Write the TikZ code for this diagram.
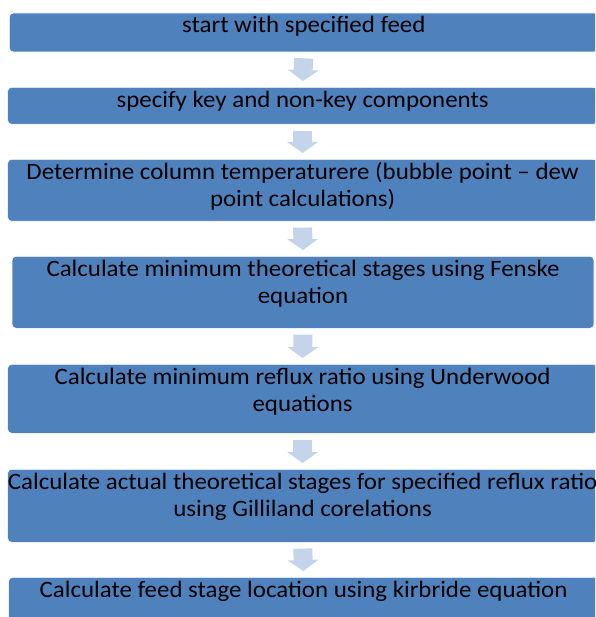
\documentclass[tikz,border=0pt]{standalone}
\usepackage{fontspec}
\setmainfont{Carlito}[FakeStretch=1.06]
\usepackage{tikz}
\usetikzlibrary{arrows.meta}
\definecolor{boxblue}{HTML}{4F81BD}
\definecolor{arrowblue}{HTML}{C4D4EA}
\tikzset{
  stepbox/.style={rectangle, rounded corners=4pt, fill=boxblue, draw=white,
    line width=0.6pt, anchor=north west, minimum width=590pt},
  steptext/.style={anchor=north, align=center, inner xsep=0pt, inner ysep=3.5pt,
    font=\fontsize{23.5}{27}\selectfont, text=black},
  flowarrow/.style={draw=arrowblue, line width=19pt, shorten <=6pt, shorten >=6pt,
    -{Triangle[length=11pt, width=31pt, line width=0pt]}}
}

\begin{document}
\begin{tikzpicture}[x=1pt, y=-1pt]
    \useasboundingbox (0,0) rectangle (595,617);
    \clip (0,0) rectangle (595,617);
    % boxes, top to bottom
    \node[stepbox, minimum width=589pt, minimum height=39pt,
      label={[steptext]north:start with specified feed}] (feed) at (9,12.7) {};
    \node[stepbox, minimum height=37pt,
      label={[steptext]north:specify key and non-key components}] (keys) at (7.3,87) {};
    \node[stepbox, minimum height=62pt,
      label={[steptext]north:{Determine column temperaturere (bubble point -- dew\\point calculations)}}] (temp) at (7.3,159) {};
    \node[stepbox, minimum width=582pt, minimum height=72pt,
      label={[steptext]north:{Calculate minimum theoretical stages using Fenske\\equation}}] (fenske) at (11.7,256) {};
    \node[stepbox, minimum height=69pt,
      label={[steptext]north:{Calculate minimum reflux ratio using Underwood\\equations}}] (underwood) at (7.3,364) {};
    \node[stepbox, minimum height=73pt,
      label={[steptext]north:{Calculate actual theoretical stages for specified reflux ratio\\using Gilliland corelations}}] (gilliland) at (7.3,469) {};
    \node[stepbox, minimum height=60pt,
      label={[steptext]north:Calculate feed stage location using kirbride equation}] (kirbride) at (8.3,577) {};

    % block arrows between the boxes
    \draw[flowarrow] (feed.south) -- (keys.north);
    \draw[flowarrow] (keys.south) -- (temp.north);
    \draw[flowarrow] (temp.south) -- (fenske.north);
    \draw[flowarrow] (fenske.south) -- (underwood.north);
    \draw[flowarrow] (underwood.south) -- (gilliland.north);
    \draw[flowarrow] (gilliland.south) -- (kirbride.north);
\end{tikzpicture}
\end{document}
